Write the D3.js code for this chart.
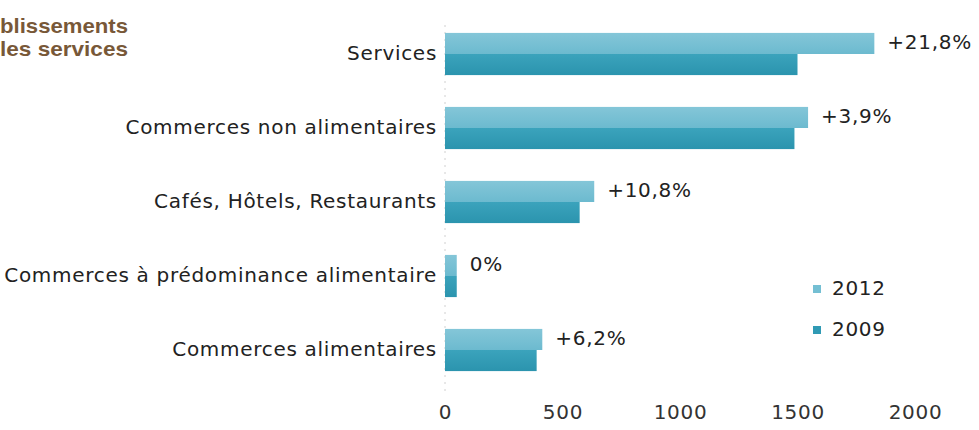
<!DOCTYPE html>
<html>
<head>
<meta charset="utf-8">
<script src="https://cdn.jsdelivr.net/npm/d3@7"></script>
<style>
  html, body { margin: 0; padding: 0; background: #fff; }
  svg { display: block; }
  .lbl { font-family: "DejaVu Sans", "Liberation Sans", sans-serif; font-size: 20px; fill: #222; letter-spacing: 0.7px; }
</style>
</head>
<body>
<svg id="chart"></svg>
<script>
// chart values
const categories = ['Services', 'Commerces non alimentaires', 'Cafés, Hôtels, Restaurants',
    'Commerces à prédominance alimentaire', 'Commerces alimentaires'];
const years = ['2012', '2009'];
const values2012 = [1827, 1545, 635, 50, 414];
const values2009 = [1500, 1487, 573, 50, 390];
const changeLabels = ['+21,8%', '+3,9%', '+10,8%', '0%', '+6,2%'];
const tickValues = [0, 500, 1000, 1500, 2000];
const titleLines = ['blissements', 'les services'];

const width = 979, height = 430;

const svg = d3.select('#chart')
    .attr('width', width)
    .attr('height', height);

const defs = svg.append('defs');
const grad = (id, top, bottom) => {
    const g = defs.append('linearGradient').attr('id', id)
        .attr('x1', 0).attr('y1', 0).attr('x2', 0).attr('y2', 1);
    g.append('stop').attr('offset', '0%').attr('stop-color', top);
    g.append('stop').attr('offset', '100%').attr('stop-color', bottom);
};
grad('g2012', '#84c6d8', '#6cbacf');
grad('g2009', '#3ba3bc', '#2b94ae');
const fills = {'2012': 'url(#g2012)', '2009': 'url(#g2009)'};
const swatch = {'2012': '#74bfd3', '2009': '#309ab4'};

const x = d3.scaleLinear().domain([0, 2000]).range([445, 915]);
const y = d3.scaleBand().domain(categories).range([17, 387])
    .paddingInner(0.43).paddingOuter(0.215);
const ySub = d3.scaleBand().domain(years).range([0, y.bandwidth()]);

const rows = categories.map((c, i) => ({
    cat: c, v2012: values2012[i], v2009: values2009[i], change: changeLabels[i]
}));

// title (cut on the left in the original)
svg.append('g').selectAll('text')
    .data(titleLines)
    .join('text')
    .attr('x', 0)
    .attr('y', (d, i) => 33 + i * 23)
    .attr('textLength', 128)
    .attr('lengthAdjust', 'spacingAndGlyphs')
    .style('font-family', '"Liberation Sans Narrow", "Liberation Sans", Arial, sans-serif')
    .style('font-weight', 'bold')
    .style('font-size', '21px')
    .style('fill', '#785838')
    .text(d => d);

// dotted base line
svg.append('line')
    .attr('x1', x(0)).attr('x2', x(0))
    .attr('y1', 25).attr('y2', 392)
    .attr('stroke', '#d0d0d0')
    .attr('stroke-width', 1)
    .attr('stroke-dasharray', '2,5');

// bars
const groups = svg.append('g').selectAll('g')
    .data(rows)
    .join('g')
    .attr('transform', d => `translate(0,${y(d.cat)})`);

groups.selectAll('rect')
    .data(d => years.map(yr => ({yr: yr, v: d['v' + yr]})))
    .join('rect')
    .attr('x', x(0))
    .attr('y', d => ySub(d.yr))
    .attr('width', d => x(d.v) - x(0))
    .attr('height', ySub.bandwidth())
    .attr('fill', d => fills[d.yr]);

// category labels
svg.append('g').selectAll('text')
    .data(rows)
    .join('text')
    .attr('class', 'lbl')
    .attr('x', 437)
    .attr('y', d => y(d.cat) + y.bandwidth() / 2)
    .attr('text-anchor', 'end')
    .attr('dominant-baseline', 'middle')
    .text(d => d.cat);

// change labels
svg.append('g').selectAll('text')
    .data(rows)
    .join('text')
    .attr('class', 'lbl')
    .attr('x', d => x(Math.max(d.v2012, d.v2009)) + 13)
    .attr('y', d => y(d.cat) + ySub('2012') + ySub.bandwidth() / 2)
    .attr('dominant-baseline', 'middle')
    .text(d => d.change);

// x axis
const xAxis = svg.append('g')
    .attr('transform', 'translate(0,405)')
    .call(d3.axisBottom(x).tickValues(tickValues).tickFormat(d3.format('d'))
        .tickSize(0).tickPadding(0));
xAxis.select('.domain').remove();
xAxis.selectAll('text')
    .attr('class', 'lbl')
    .attr('dy', '0.71em')
    .style('fill', '#333');

// legend
const legend = svg.append('g').selectAll('g')
    .data(years)
    .join('g')
    .attr('transform', (d, i) => `translate(813,${289 + i * 41})`);
legend.append('rect')
    .attr('x', 0).attr('y', -4)
    .attr('width', 8).attr('height', 8)
    .attr('fill', d => swatch[d]);
legend.append('text')
    .attr('class', 'lbl')
    .attr('x', 19)
    .attr('dominant-baseline', 'middle')
    .text(d => d);
</script>
</body>
</html>
